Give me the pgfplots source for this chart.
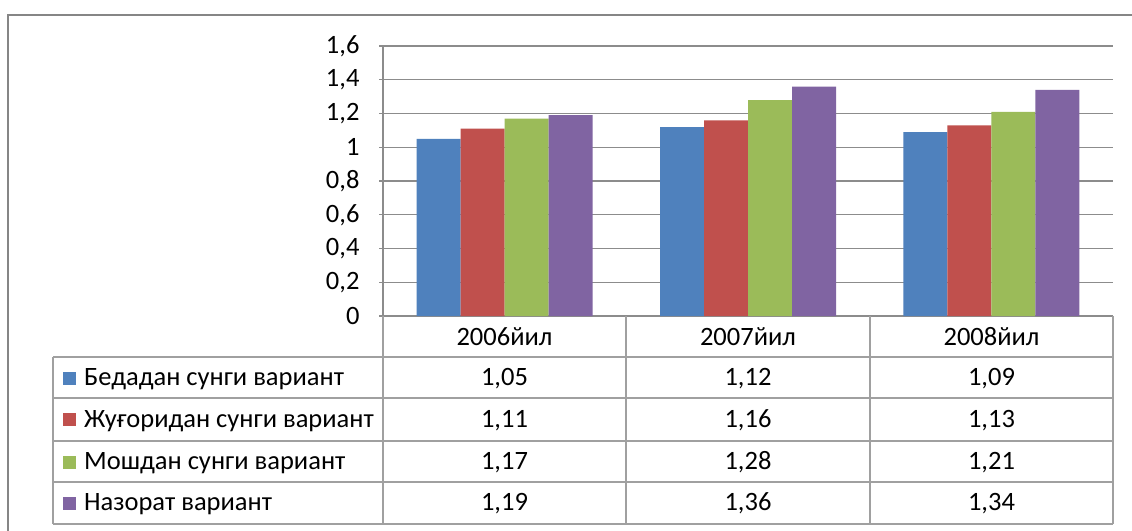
\documentclass[border=0pt]{standalone}
\usepackage{fontspec}
\setmainfont{Carlito}
\usepackage{pgfplots}
\pgfplotsset{compat=1.18}
\definecolor{c1}{HTML}{4F81BD}
\definecolor{c2}{HTML}{C0504D}
\definecolor{c3}{HTML}{9BBB59}
\definecolor{c4}{HTML}{8064A2}
\definecolor{gridc}{HTML}{8C8C8C}
\definecolor{tabc}{HTML}{A0A0A0}
\definecolor{framec}{HTML}{868686}
\begin{document}
\begin{tikzpicture}[x=1pt,y=1pt,font=\fontsize{26.5}{30}\selectfont]
\clip (0,0) rectangle (1132,-530);
\fill[white] (0,0) rectangle (1132,-530);
\draw[framec, line width=2pt] (8,-15) rectangle (1160,-560);
\begin{axis}[
  at={(383pt,-316pt)}, anchor=south west,
  width=730pt, height=270pt, scale only axis,
  xmin=-0.5, xmax=2.5, ymin=0, ymax=1.6,
  ytick={0,0.2,0.4,0.6,0.8,1,1.2,1.4,1.6},
  xtick=\empty,
  axis lines=left,
  axis line style={-, draw=gridc, line width=1.2pt},
  every outer x axis line/.append style={-},
  every outer y axis line/.append style={-},
  ymajorgrids, grid style={draw=gridc, line width=1.2pt},
  ytick style={draw=gridc, line width=1.2pt},
  tick align=outside, major tick length=4pt,
  yticklabel style={font=\fontsize{26.5}{30}\selectfont, anchor=east, xshift=-16pt,
    /pgf/number format/.cd, use comma, fixed, precision=1, assume math mode=true},
  ybar=0pt, bar width=44pt,
]
\addplot[fill=c1, draw=none] coordinates {(0,1.05) (1,1.12) (2,1.09)};
\addplot[fill=c2, draw=none] coordinates {(0,1.11) (1,1.16) (2,1.13)};
\addplot[fill=c3, draw=none] coordinates {(0,1.17) (1,1.28) (2,1.21)};
\addplot[fill=c4, draw=none] coordinates {(0,1.19) (1,1.36) (2,1.34)};
\end{axis}
% data table grid
\begin{scope}[tabc, line width=1.5pt]
\foreach \yy in {357,398,441,482,524} \draw (53,-\yy) -- (1113,-\yy);
\draw (53,-357) -- (53,-524);
\foreach \xx in {383,626,870,1113} \draw (\xx,-316) -- (\xx,-524);
\end{scope}
% header
\node[anchor=base] at (504.5,-345) {2006йил};
\node[anchor=base] at (748,-345) {2007йил};
\node[anchor=base] at (991.5,-345) {2008йил};
% rows
\foreach \b/\c/\name/\va/\vb/\vc in {
  385.5/c1/{Бедадан сунги вариант}/{1,05}/{1,12}/{1,09},
  427/c2/{Жуғоридан сунги вариант}/{1,11}/{1,16}/{1,13},
  469.5/c3/{Мошдан сунги вариант}/{1,17}/{1,28}/{1,21},
  510.5/c4/{Назорат вариант}/{1,19}/{1,36}/{1,34}} {
  \fill[\c] (63,-\b+1) rectangle (76,-\b+14);
  \node[anchor=base west, inner sep=0pt] at (84,-\b) {\name};
  \node[anchor=base] at (504.5,-\b) {\va};
  \node[anchor=base] at (748,-\b) {\vb};
  \node[anchor=base] at (991.5,-\b) {\vc};
}
\end{tikzpicture}
\end{document}
